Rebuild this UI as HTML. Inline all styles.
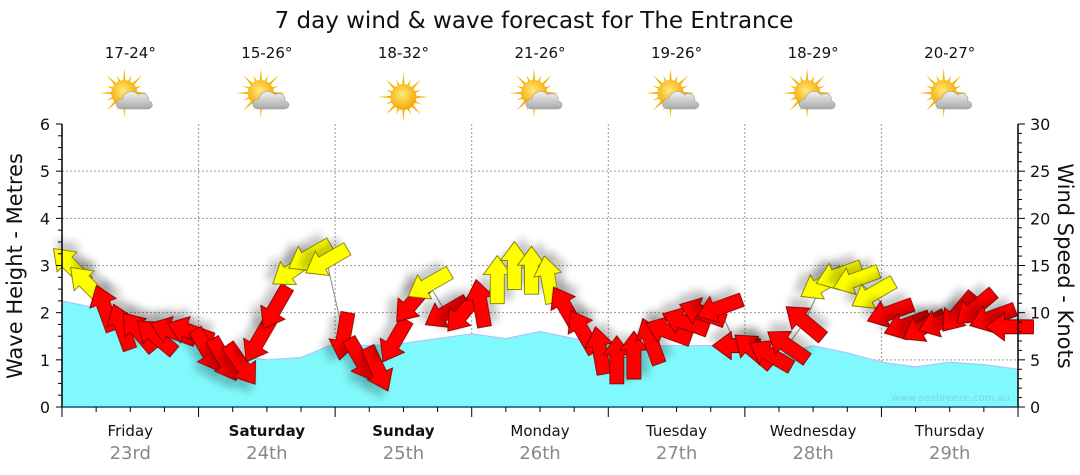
<!DOCTYPE html>
<html><head><meta charset="utf-8"><style>
body{margin:0;background:#fff;font-family:"DejaVu Sans","Liberation Sans",sans-serif}
svg{display:block}
</style></head><body>
<svg id="c" width="1080" height="475" viewBox="0 0 1080 475" font-family="DejaVu Sans, Liberation Sans, sans-serif">
<defs>
<filter id="sh" x="-50%" y="-50%" width="200%" height="200%"><feGaussianBlur in="SourceAlpha" stdDeviation="4"/><feOffset dx="4" dy="8"/><feComponentTransfer><feFuncA type="linear" slope="0.22"/></feComponentTransfer><feMerge><feMergeNode/><feMergeNode in="SourceGraphic"/></feMerge></filter>
<radialGradient id="sun" cx="0.45" cy="0.4" r="0.6"><stop offset="0" stop-color="#ffe97a"/><stop offset="1" stop-color="#f5a800"/></radialGradient>
<linearGradient id="cloud" x1="0" y1="0" x2="0" y2="1"><stop offset="0" stop-color="#f2f2f2"/><stop offset="1" stop-color="#a8a8a8"/></linearGradient>
</defs>
<text x="534" y="28" text-anchor="middle" font-size="23" fill="#111">7 day wind &amp; wave forecast for The Entrance</text>
<g id="grid"></g>
<g id="wave"></g>
<g id="wind"></g>
<g id="axes"></g>
<text x="1010" y="401" text-anchor="end" font-size="10" fill="#7fd4e6">www.seabreeze.com.au</text>
<text transform="translate(22,266) rotate(-90)" text-anchor="middle" font-size="21" fill="#111">Wave Height - Metres</text>
<text transform="translate(1058,266) rotate(90)" text-anchor="middle" font-size="21" fill="#111">Wind Speed - Knots</text>
</svg>
<script>
const days=["Friday","Saturday","Sunday","Monday","Tuesday","Wednesday","Thursday"];
const dates=["23rd","24th","25th","26th","27th","28th","29th"];
const boldDays=[false,true,true,false,false,false,false];
const temps=["17-24°","15-26°","18-32°","21-26°","19-26°","18-29°","20-27°"];
const icons=["partly","partly","sunny","partly","partly","partly","partly"];
const waveTicks=[0,1,2,3,4,5,6];
const windTicks=[0,5,10,15,20,25,30];
const waveHours=[0,6,12,18,24,30,36,42,48,54,60,66,72,78,84,90,96,102,108,114,120,126,132,138,144,150,156,162,168];
const waveVals=[2.25,2.1,1.75,1.5,1.3,1.1,1.0,1.05,1.35,1.3,1.35,1.45,1.55,1.45,1.6,1.45,1.35,1.3,1.3,1.3,1.15,1.1,1.3,1.15,0.95,0.85,0.95,0.9,0.8];
const windSpeed=[15,13,10.5,8.5,8,7.5,8,8, 6,5,4.5,7,10.5,14.5,16,15.5, 7.5,5,4,7,11,13,10,10, 11,13.5,15,14.5,13.5,10.5,8,6, 5,5.5,7,8,9,10,10.5,6.5, 6,5.5,6.5,9,13,14,13.5,12, 10,8.7,8.5,9,10,10.5,9.5,8.5];
const windDir=[225,225,250,250,230,220,200,200, 60,60,55,120,120,145,150,150, 100,60,65,120,130,150,150,130, 260,270,270,270,260,240,240,260, 270,270,250,200,200,200,160,180, 220,210,215,220,150,160,160,150, 160,160,150,160,130,140,160,180];
const X0=62,X1=1018,Y0=407,Y1=124,HRS=168;
const x=h=>X0+(X1-X0)*h/HRS;
const yW=v=>Y0-(Y0-Y1)*v/6;
const yK=v=>Y0-(Y0-Y1)*v/30;
const NS="http://www.w3.org/2000/svg";
function mk(t,a,p){const e=document.createElementNS(NS,t);for(const k in a)e.setAttribute(k,a[k]);p.appendChild(e);return e;}
const svg=document.getElementById('c'),grid=document.getElementById('grid'),axes=document.getElementById('axes'),wave=document.getElementById('wave'),wind=document.getElementById('wind');
waveTicks.forEach(v=>{if(v>0&&v<6){const l=mk('line',{x1:X0,x2:X1,y1:yW(v),y2:yW(v),stroke:'#999','stroke-dasharray':'2,2','stroke-width':1},grid);

}});
for(let d=1;d<7;d++){const l=mk('line',{x1:x(d*24),x2:x(d*24),y1:Y1,y2:Y0,stroke:'#999','stroke-dasharray':'2,2','stroke-width':1},grid);

}
let d='M'+x(waveHours[0])+','+Y0;
waveHours.forEach((h,i)=>{d+=' L'+x(h).toFixed(1)+','+yW(waveVals[i]).toFixed(1);});
d+=' L'+x(waveHours[waveHours.length-1])+','+Y0+' Z';
const wa=mk('path',{d:d,fill:'#7ff9fb',stroke:'#a9c6ff','stroke-width':1.2},wave);


let ld='';windSpeed.forEach((s,i)=>{ld+=(i?' L':'M')+x(i*3+1.5).toFixed(1)+','+yK(s).toFixed(1);});
const wl=mk('path',{d:ld,fill:'none',stroke:'#888','stroke-width':1},wind);


windSpeed.forEach((s,i)=>{
 const cx=x(i*3+1.5),cy=yK(s);
 const g=mk('g',{transform:`translate(${cx.toFixed(1)},${cy.toFixed(1)}) rotate(${windDir[i]})`,filter:'url(#sh)'},wind);
 
 
 mk('polygon',{points:'24,0 5,-14 5,-7 -24,-7 -24,7 5,7 5,14',fill:s>=12?'#ffff00':'#ff0000',stroke:s>=12?'#6b6b00':'#6b0000','stroke-width':0.8},g);
});
const al=mk('line',{x1:X0,x2:X0,y1:Y1,y2:Y0,stroke:'#000','stroke-width':1.5},axes);


const ar=mk('line',{x1:X1,x2:X1,y1:Y1,y2:Y0,stroke:'#000','stroke-width':1.5},axes);


const ab=mk('line',{x1:X0,x2:X1,y1:Y0,y2:Y0,stroke:'#1a4f7a','stroke-width':1.5},axes);


for(let v=0;v<=24;v++){const yy=Y0-(Y0-Y1)*v/24;mk('line',{x1:X0-(v%4?4:6),x2:X0,y1:yy,y2:yy,stroke:'#000'},axes);}
for(let v=0;v<=30;v++){const yy=yK(v);mk('line',{x1:X1,x2:X1+(v%5?4:7),y1:yy,y2:yy,stroke:'#000'},axes);}
for(let h=0;h<=HRS;h+=6){mk('line',{x1:x(h),x2:x(h),y1:Y0,y2:Y0+(h%24?5:10),stroke:'#000'},axes);}
waveTicks.forEach(v=>{const t=mk('text',{x:X0-12,y:yW(v)+6,'text-anchor':'end','font-size':16,fill:'#111'},axes);t.textContent=v;

});
windTicks.forEach(v=>{const t=mk('text',{x:X1+12,y:yK(v)+6,'font-size':16,fill:'#111'},axes);t.textContent=v;

});
days.forEach((n,i)=>{
 const cx=x(i*24+12);
 const t=mk('text',{x:cx,y:436,'text-anchor':'middle','font-size':15,fill:'#111','font-weight':boldDays[i]?'bold':'normal'},axes);t.textContent=n;
 
 
 const t2=mk('text',{x:cx,y:459,'text-anchor':'middle','font-size':18,fill:'#888'},axes);t2.textContent=dates[i];
 
 
 const t3=mk('text',{x:cx,y:58,'text-anchor':'middle','font-size':15,fill:'#111'},svg);t3.textContent=temps[i];
 
 
 const g=mk('g',{transform:`translate(${cx},97)`},svg);
 
 
 const sx=icons[i]=='sunny'?0:-6, sy=icons[i]=='sunny'?0:-4;
 let rays='';for(let k=0;k<16;k++){const a=k*Math.PI/8,r=k%2?19:25;rays+=`M${(sx+Math.cos(a-0.12)*11).toFixed(1)},${(sy+Math.sin(a-0.12)*11).toFixed(1)} L${(sx+Math.cos(a)*r).toFixed(1)},${(sy+Math.sin(a)*r).toFixed(1)} L${(sx+Math.cos(a+0.12)*11).toFixed(1)},${(sy+Math.sin(a+0.12)*11).toFixed(1)} Z `;}
 mk('path',{d:rays,fill:'#f2b400'},g);
 mk('circle',{cx:sx,cy:sy,r:13,fill:'url(#sun)'},g);
 if(icons[i]!='sunny'){
  mk('path',{d:'M-8,12 C-16,12 -16,2 -8,2 C-7,-6 4,-8 8,-2 C12,-6 20,-2 18,4 C24,5 23,12 17,12 Z',fill:'url(#cloud)',stroke:'#9a9a9a','stroke-width':0.6},g);
 }
});
</script>
</body></html>
